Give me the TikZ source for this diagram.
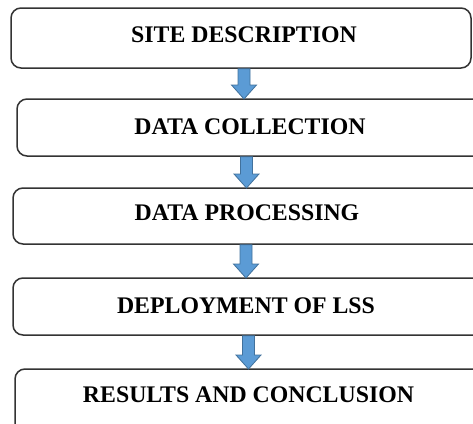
\documentclass[tikz,border=0pt]{standalone}
\usepackage{fontspec}
\setmainfont{Liberation Serif}
\begin{document}
\begin{tikzpicture}[x=1pt,y=-1pt,
  stepbox/.style={draw=black!80,line width=1.5pt,rounded corners=10pt,fill=white},
  steptext/.style={inner sep=0pt,anchor=base,font=\fontsize{23.8}{28}\selectfont\bfseries},
  barrow/.style={fill=arrowblue,draw=arrowedge,line width=0.8pt,line join=miter}]
\definecolor{arrowblue}{HTML}{5B9BD5}
\definecolor{arrowedge}{HTML}{41719C}
\useasboundingbox (0,0) rectangle (473,423);
\clip (0,0) rectangle (473,423);
\newcommand\blockarr[3]{%
  \filldraw[barrow] (#1-6,#2) -- (#1+6,#2) -- (#1+6,#3-14) -- (#1+12.5,#3-14) -- (#1,#3) -- (#1-12.5,#3-14) -- (#1-6,#3-14) -- cycle;}
% boxes
\draw[stepbox] (11,8) rectangle (471,68);
\draw[stepbox] (17,99) rectangle (500,156);
\draw[stepbox] (13,188) rectangle (500,244);
\draw[stepbox] (13,278) rectangle (500,335);
\draw[stepbox] (15,369) rectangle (500,440);
% texts
\node[steptext] (t1) at (244,42.4) {SITE DESCRIPTION};
\node[steptext] (t2) at (250,134.9) {DATA COLLECTION};
\node[steptext] (t3) at (247,220.9) {DATA PROCESSING};
\node[steptext] (t4) at (246,313.9) {DEPLOYMENT OF LSS};
\node[steptext] (t5) at (248.5,402.9) {RESULTS AND CONCLUSION};
% arrows
\blockarr{244}{68.8}{99}
\blockarr{246.5}{156.8}{188}
\blockarr{246}{244.8}{278}
\blockarr{248.5}{335.8}{369}
\end{tikzpicture}
\end{document}
